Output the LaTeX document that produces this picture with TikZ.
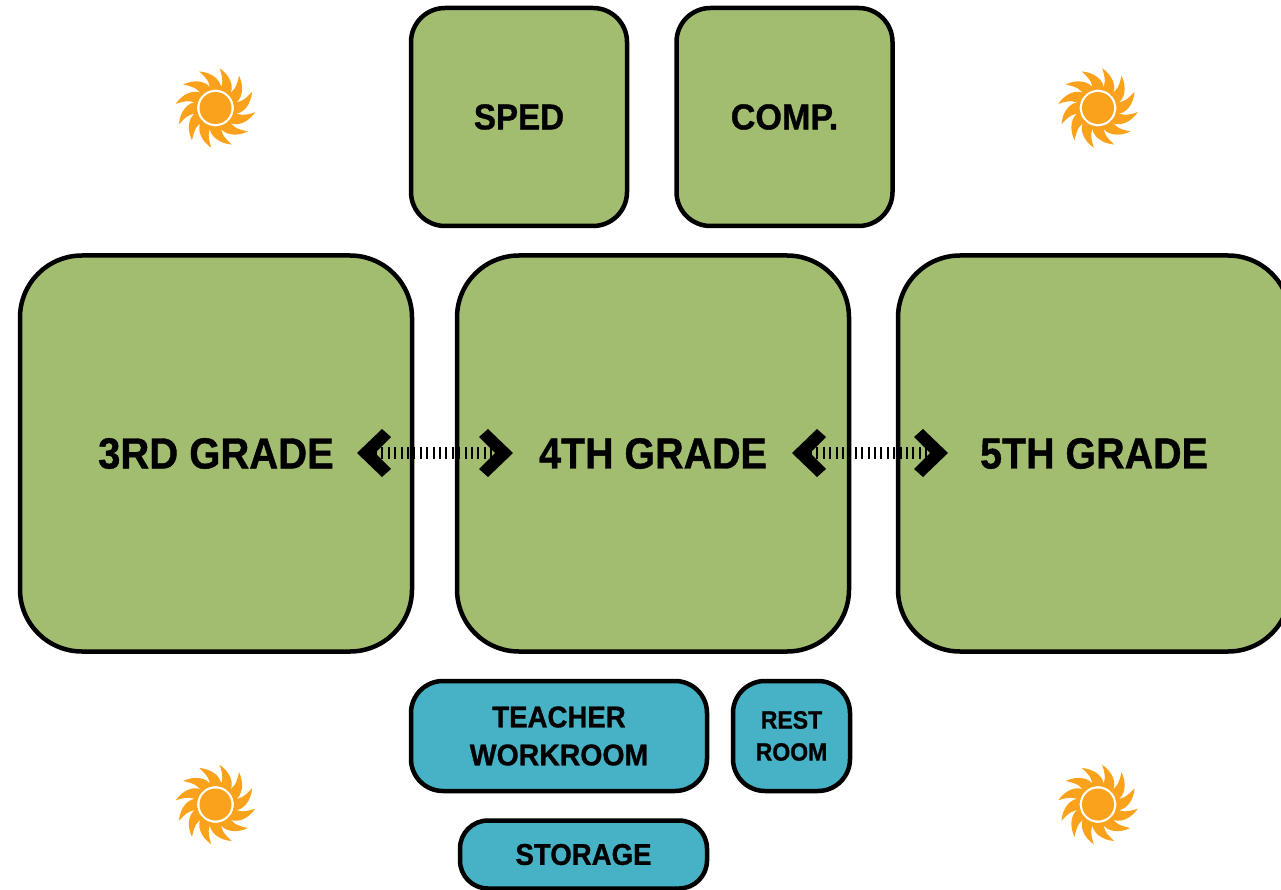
\documentclass[tikz,border=0pt]{standalone}
\usepackage{fontspec}
\usepackage{graphicx}
\newfontfamily\labelfont[FakeStretch=0.92,BoldFont={Liberation Sans Bold},BoldFeatures={FakeStretch=0.92,FakeBold=0.9}]{Liberation Sans}
\definecolor{roomgreen}{HTML}{A2BD70}
\definecolor{roomteal}{HTML}{47B1C5}
\definecolor{sunorange}{HTML}{FAA21B}
\tikzset{
  room/.style={draw=black,line width=4.5pt,inner sep=0pt,align=center,text=black},
  bigroom/.style={room,fill=roomgreen,minimum width=392pt,minimum height=396pt,rounded corners=62pt,
    font=\labelfont\bfseries\fontsize{43.5}{50}\selectfont},
  midroom/.style={room,fill=roomgreen,minimum width=216pt,minimum height=218pt,rounded corners=34pt,
    font=\labelfont\bfseries\fontsize{36}{42}\selectfont},
  smallroom/.style={room,fill=roomteal,rounded corners=32pt,
    font=\labelfont\bfseries\fontsize{30}{38}\selectfont},
  linkline/.style={line width=12pt,draw=black,dash pattern=on 2pt off 4.4pt},
  chev/.style={fill=black,draw=none},
  sunicon/.pic={
    \fill[sunorange] (0,0) circle (16);
    \foreach \a in {6,36,...,336}{
      \fill[sunorange,rotate=\a] (-43:18.4) .. controls (-37:29) and (-17:36) .. (0:40)
        .. controls (-9:30) and (-13:24) .. (-5:18.4) arc[start angle=-5,end angle=-43,radius=18.4] -- cycle;
    }
  }
}
\newcommand{\chevleft}[1]{\fill[chev,shift={(#1)}] (0,0) -- (25,-24) -- (34,-16) -- (18,0) -- (34,16) -- (25,24) -- cycle;}
\newcommand{\chevright}[1]{\fill[chev,shift={(#1)}] (0,0) -- (-25,-24) -- (-34,-16) -- (-18,0) -- (-34,16) -- (-25,24) -- cycle;}
\begin{document}
\begin{tikzpicture}[x=1pt,y=-1pt]
\useasboundingbox (0,0) rectangle (1281,890);
\node[midroom] (sped) at (519,117) {SPED};
\node[midroom] (comp) at (784.5,117) {\scalebox{1.03}[1]{COMP.}};
\node[bigroom] (third) at (216,453.5) {3RD GRADE};
\node[bigroom] (fourth) at (653,453.5) {\scalebox{0.985}[1]{4TH GRADE}};
\node[bigroom] (fifth) at (1094,453.5) {\scalebox{0.985}[1]{5TH GRADE}};
\node[smallroom,minimum width=296pt,minimum height=110pt] (teacher) at (559,736) {TEACHER\\\scalebox{1.03}[1]{WORKROOM}};
\node[smallroom,minimum width=117pt,minimum height=110pt,font=\labelfont\bfseries\fontsize{25}{32}\selectfont] (rest) at (791.5,736) {REST\\ROOM};
\node[smallroom,minimum width=247pt,minimum height=68pt,rounded corners=28pt] (storage) at (583.5,854.5) {STORAGE};
\coordinate (a1l) at (375,453);
\coordinate (a1r) at (495,453);
\coordinate (a2l) at (810,453);
\coordinate (a2r) at (930,453);
\draw[linkline] (a1l) -- (a1r);
\draw[linkline] (a2l) -- (a2r);
\chevleft{357,453}
\chevright{513,453}
\chevleft{792,453}
\chevright{948,453}
\path (215.5,108) pic[yscale=-1] {sunicon};
\path (1098,108) pic[yscale=-1] {sunicon};
\path (215.5,804.5) pic[yscale=-1] {sunicon};
\path (1098,804.5) pic[yscale=-1] {sunicon};
\end{tikzpicture}
\end{document}
